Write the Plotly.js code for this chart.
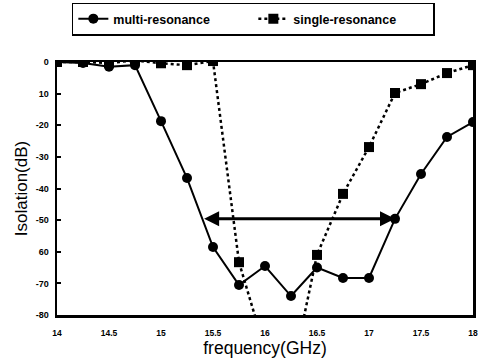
<!DOCTYPE html>
<html><head><meta charset="utf-8">
<script src="https://cdn.plot.ly/plotly-3.0.1.min.js"></script>
<style>body{margin:0;background:#fff}#c{width:478px;height:359px}</style>
</head><body><div id="c"></div>
<script>
const freq = [14,14.25,14.5,14.75,15,15.25,15.5,15.75,16,16.25,16.5,16.75,17,17.25,17.5,17.75,18];
const multiRes = [0,-0.3,-1.5,-1,-18.7,-36.7,-58.5,-70.5,-64.5,-74,-65,-68.3,-68.3,-49.6,-35.4,-23.7,-19];
const singleRes = [0,0,-0.3,0.5,-0.4,-1,0.3,-63.3,-91,-100,-61,-41.7,-26.9,-9.8,-7,-3.5,-1];
const xTickVals = [14,14.5,15,15.5,16,16.5,17,17.5,18];
const xTickText = ["14","14.5","15","15.5","16","16.5","17","17.5","18"];
const yTickVals = [0,-10,-20,-30,-40,-50,-60,-70,-80];
const yTickText = ["0","10","-20","-30","-40","-50","60","-70","-80"];
const bandLevel = -49.6, bandStart = 15.4, bandEnd = 17.25;

const traces = [
 {x:freq,y:multiRes,name:'multi-resonance',mode:'lines+markers',
  line:{color:'#000',width:2},marker:{symbol:'circle',size:10,color:'#000'}},
 {x:freq,y:singleRes,name:'single-resonance',mode:'lines+markers',
  line:{color:'#000',width:2.5,dash:'dot'},marker:{symbol:'square',size:10,color:'#000'}}
];
const layout = {
 width:478,height:359,
 margin:{l:57,r:5,t:62,b:44,autoexpand:false},
 paper_bgcolor:'#fff',plot_bgcolor:'#fff',
 font:{family:'Liberation Sans, Arial, sans-serif',color:'#000'},
 showlegend:true,
 legend:{orientation:'h',x:0.53,xanchor:'center',xref:'container',y:0.947,yanchor:'middle',yref:'container',
   bordercolor:'#000',borderwidth:1.5,bgcolor:'#fff',
   font:{size:12.5,family:'Liberation Sans, Arial, sans-serif',weight:'bold'},
   entrywidth:135,entrywidthmode:'pixels',tracegroupgap:0},
 xaxis:{range:[14,18],tickvals:xTickVals,ticktext:xTickText,showgrid:false,zeroline:false,
   showline:true,linecolor:'#000',linewidth:2.5,mirror:true,ticks:'',
   ticklabelstandoff:8,
   tickfont:{size:8.5,weight:'bold'},
   title:{text:'frequency(GHz)',font:{size:17.5},standoff:2}},
 yaxis:{range:[-80,0],tickvals:yTickVals,ticktext:yTickText,showgrid:false,zeroline:false,
   showline:true,linecolor:'#000',linewidth:2.5,mirror:true,ticks:'inside',ticklen:4,tickwidth:2,tickcolor:'#000',
   ticklabelstandoff:4,
   tickfont:{size:9,weight:'bold'},
   title:{text:'Isolation(dB)',font:{size:17},standoff:4}},
 annotations:[{x:bandEnd,y:bandLevel,ax:bandStart,ay:bandLevel,xref:'x',yref:'y',axref:'x',ayref:'y',
   text:'',showarrow:true,arrowhead:2,startarrowhead:2,arrowside:'end+start',arrowsize:1,arrowwidth:3,arrowcolor:'#000'}]
};
Plotly.newPlot('c',traces,layout,{staticPlot:true});
</script></body></html>
